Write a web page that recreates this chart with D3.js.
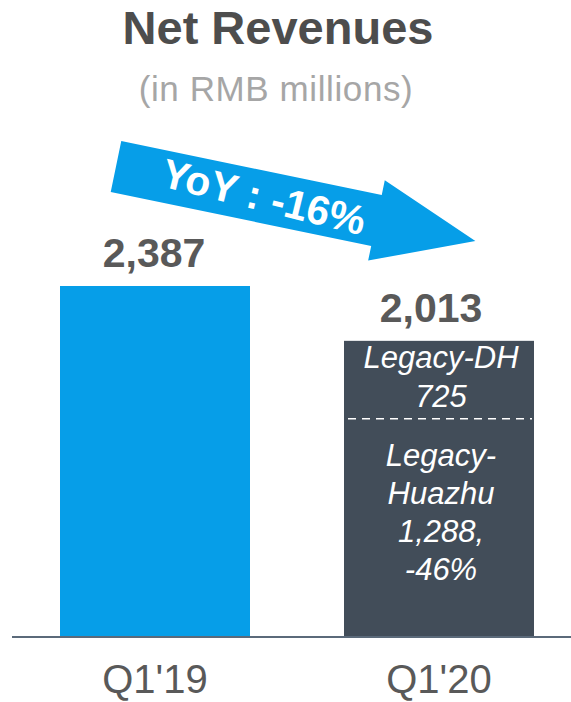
<!DOCTYPE html>
<html>
<head>
<meta charset="utf-8">
<script src="https://cdn.jsdelivr.net/npm/d3@7"></script>
<style>
  html, body { margin: 0; padding: 0; background: #fff; }
  svg { display: block; font-family: Arial, "Liberation Sans", Helvetica, sans-serif; }
</style>
</head>
<body>
<svg id="chart" width="571" height="702"></svg>
<script>
// ---- data ----
const categories = ["Q1'19", "Q1'20"];
const totals = [2387, 2013];
const valueLabels = ["2,387", "2,013"];
const segmentNames = ["Legacy-DH", "Legacy-Huazhu"];
const segmentValuesQ120 = [725, 1288];
const segmentLines = [["Legacy-DH", "725"], ["Legacy-", "Huazhu", "1,288,", "-46%"]];
const titleText = "Net Revenues";
const subtitleText = "(in RMB millions)";
const yoyText = "YoY : -16%";

// ---- layout ----
const W = 571, H = 702;
const baseY = 636;
const svg = d3.select("#chart");

const x = d3.scaleBand().domain(categories).range([60, 534]).paddingInner(94 / 284).paddingOuter(0);
const y = d3.scaleLinear().domain([0, d3.max(totals)]).range([baseY, 286]);

const blue = "#069ee8";
const slate = "#424d59";
const gray = "#595959";

// title
svg.append("text").attr("x", 278).attr("y", 44).attr("text-anchor", "middle")
  .attr("font-size", 47).attr("font-weight", "bold").attr("fill", "#4d4d4d").text(titleText);
svg.append("text").attr("x", 276).attr("y", 101).attr("text-anchor", "middle")
  .attr("font-size", 35).attr("letter-spacing", 0.6).attr("fill", "#a6a6a6").text(subtitleText);

// bars
const barColors = [blue, slate];
svg.selectAll("rect.bar").data(categories).join("rect")
  .attr("class", "bar")
  .attr("x", d => x(d)).attr("width", x.bandwidth())
  .attr("y", (d, i) => y(totals[i])).attr("height", (d, i) => baseY - y(totals[i]))
  .attr("fill", (d, i) => barColors[i]);

// axis baseline
svg.append("line").attr("x1", 12).attr("x2", W).attr("y1", baseY + 1).attr("y2", baseY + 1)
  .attr("stroke", "#5b6a7a").attr("stroke-width", 2);

// category labels
svg.selectAll("text.cat").data(categories).join("text")
  .attr("class", "cat")
  .attr("x", d => x(d) + x.bandwidth() / 2).attr("y", 693)
  .attr("text-anchor", "middle").attr("font-size", 40).attr("fill", gray).text(d => d);

// value labels
const labelDx = [-1, -8];
svg.selectAll("text.val").data(categories).join("text")
  .attr("class", "val")
  .attr("x", (d, i) => x(d) + x.bandwidth() / 2 + labelDx[i]).attr("y", (d, i) => y(totals[i]) - 19)
  .attr("text-anchor", "middle").attr("font-size", 41).attr("font-weight", "bold")
  .attr("fill", gray).text((d, i) => valueLabels[i]);

// segment texts in second bar
const cx2 = x(categories[1]) + x.bandwidth() / 2 + 2;
const top2 = y(totals[1]);
const lineOffsets = [[27, 66], [125, 163, 201, 239]];
segmentLines.forEach((lines, si) => {
  lines.forEach((t, li) => {
    svg.append("text").attr("x", cx2).attr("y", top2 + lineOffsets[si][li])
      .attr("text-anchor", "middle").attr("font-size", 31).attr("font-style", "italic")
      .attr("fill", "#ffffff").text(t);
  });
});
// dashed separator
svg.append("line")
  .attr("x1", x(categories[1]) + 4).attr("x2", x(categories[1]) + x.bandwidth() - 2)
  .attr("y1", top2 + 78).attr("y2", top2 + 78)
  .attr("stroke", "#ffffff").attr("stroke-width", 1.5).attr("stroke-dasharray", "8,6");

// arrow annotation
const ang = 11.7;
const arrow = svg.append("g").attr("transform", `translate(116,166.5) rotate(${ang})`);
const pts = [[0, -26], [266, -26], [266, -41], [367, 0], [266, 41], [266, 26], [0, 26]];
arrow.append("polygon").attr("points", pts.map(p => p.join(",")).join(" ")).attr("fill", blue);
arrow.append("text").attr("transform", "translate(151,0) rotate(2)").attr("y", 14)
  .attr("text-anchor", "middle")
  .attr("font-size", 41).attr("font-weight", "bold").attr("fill", "#ffffff").text(yoyText);
</script>
</body>
</html>
